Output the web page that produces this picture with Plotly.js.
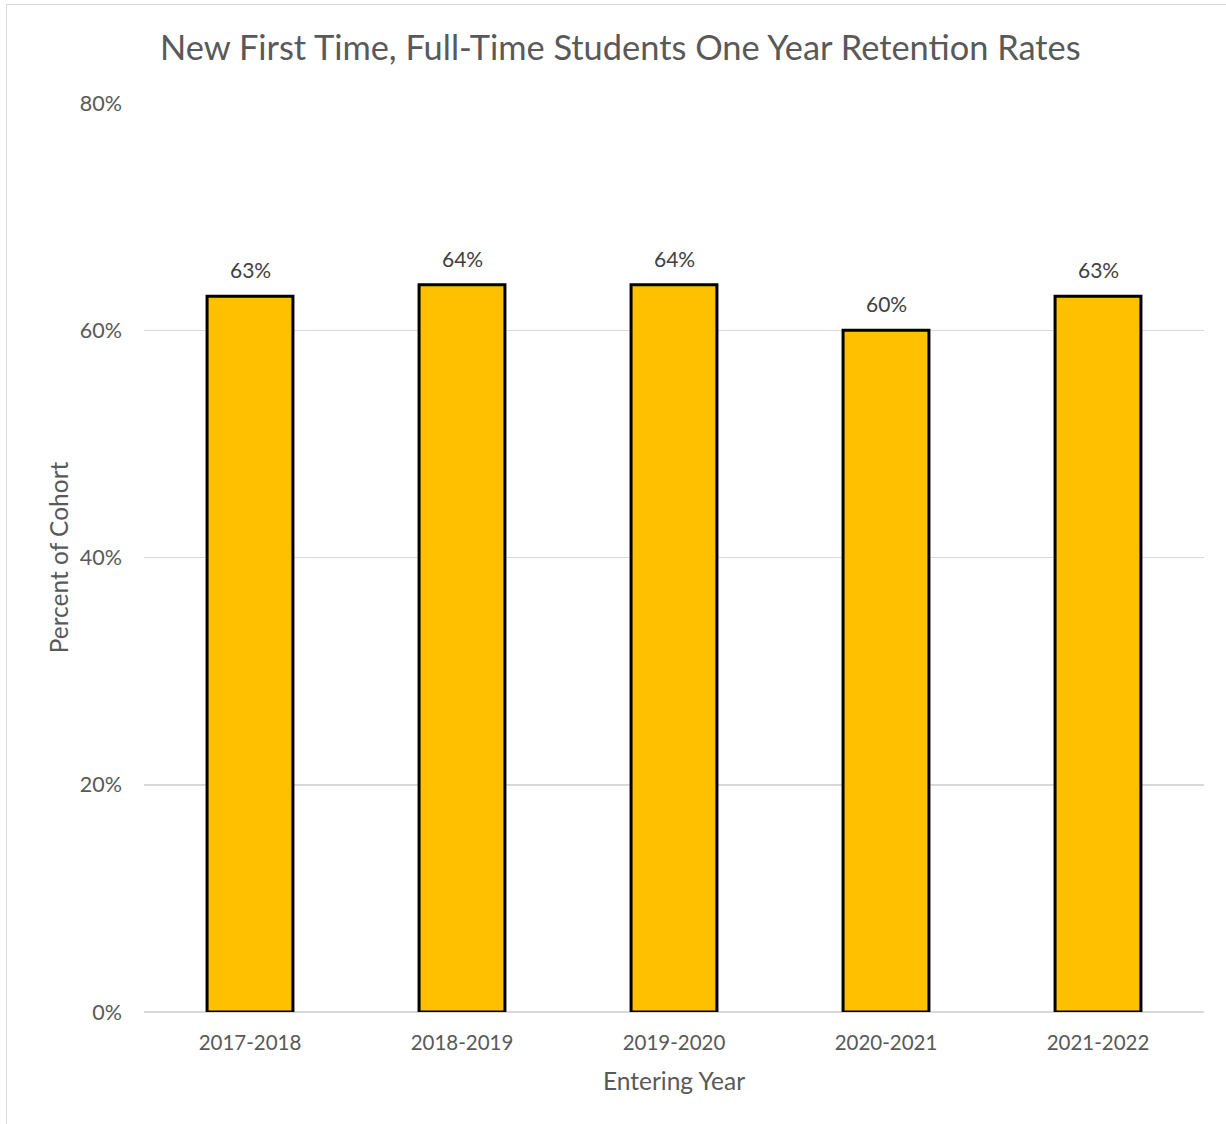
<!DOCTYPE html>
<html>
<head>
<meta charset="utf-8">
<script src="https://cdn.plot.ly/plotly-3.0.1.min.js"></script>
<style>
  html, body { margin: 0; padding: 0; background: #fff; }
  #frame { position: absolute; left: 6px; top: 4px; width: 1300px; height: 1300px; border: 1.5px solid #d9d9d9; box-sizing: border-box; pointer-events: none; z-index: 5; }
  #chart { position: absolute; left: 0; top: 0; width: 1226px; height: 1124px; }
</style>
</head>
<body>
<div id="chart"></div>
<div id="frame"></div>
<script>
const categories = ["2017-2018", "2018-2019", "2019-2020", "2020-2021", "2021-2022"];
const retention = [0.63, 0.64, 0.64, 0.60, 0.63];
const labels = ["63%", "64%", "64%", "60%", "63%"];
const yTicks = [0, 0.2, 0.4, 0.6, 0.8];
const yTickText = ["0%", "20%", "40%", "60%", "80%"];

const font = "Lato, 'Open Sans', sans-serif";
const grey = "#595959";

const trace = {
  type: "bar",
  x: categories,
  y: retention,
  marker: { color: "#FFC000", line: { color: "#000000", width: 3 } },
  width: 0.405,
  hoverinfo: "x+y"
};

const annotations = categories.map((c, i) => ({
  x: c,
  y: retention[i],
  xref: "x",
  yref: "y",
  text: labels[i],
  showarrow: false,
  yanchor: "bottom",
  yshift: 12,
  font: { family: font, size: 21, color: "#404040" }
}));

const layout = {
  width: 1226,
  height: 1124,
  margin: { l: 144, r: 22, t: 103, b: 112 },
  paper_bgcolor: "#ffffff",
  plot_bgcolor: "#ffffff",
  font: { family: font, color: grey, size: 20 },
  title: {
    text: "New First Time, Full-Time Students One Year Retention Rates",
    font: { family: font, size: 34.4, color: grey },
    x: 0.506, xanchor: "center",
    y: 1 - 48 / 1124, yanchor: "middle"
  },
  xaxis: {
    type: "category",
    tickfont: { family: font, size: 20.5, color: grey },
    ticks: "",
    ticklabelstandoff: 16,
    showgrid: false,
    showline: false,
    zeroline: false,
    title: { text: "Entering Year", font: { family: font, size: 24.5, color: grey }, standoff: 20 }
  },
  yaxis: {
    range: [0, 0.8],
    tickvals: yTicks,
    ticktext: yTickText,
    tickfont: { family: font, size: 21.5, color: grey },
    ticks: "",
    ticklabelstandoff: 21,
    showgrid: true,
    gridcolor: "#d9d9d9",
    gridwidth: 1.5,
    zeroline: true,
    zerolinecolor: "#d9d9d9",
    zerolinewidth: 2,
    showline: false,
    title: { text: "Percent of Cohort", font: { family: font, size: 24.5, color: grey }, standoff: 4 }
  },
  annotations: annotations,
  bargap: 0.6,
  showlegend: false
};

Plotly.newPlot("chart", [trace], layout, { displayModeBar: false, staticPlot: true });
</script>
</body>
</html>
